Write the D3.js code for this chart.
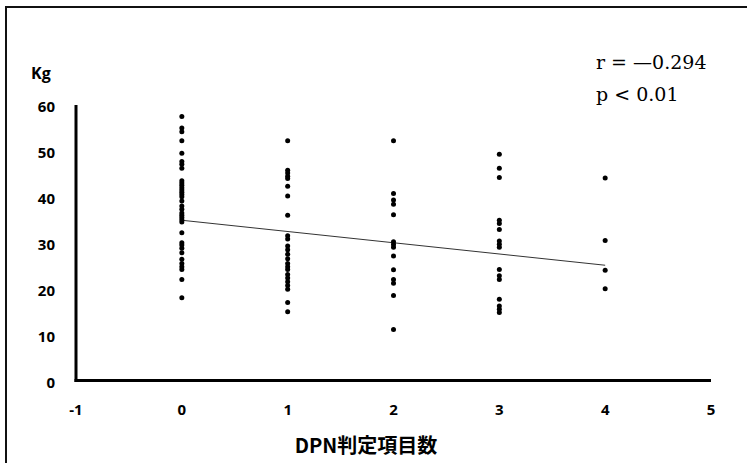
<!DOCTYPE html>
<html>
<head>
<meta charset="utf-8">
<script src="https://cdn.jsdelivr.net/npm/d3@7"></script>
<style>
  body { margin: 0; background: #fff; }
  svg { display: block; }
</style>
</head>
<body>
<script>
"use strict";

// Data: grip strength (Kg) by number of DPN criteria met
const group0 = [57.5, 55, 54.2, 52.2, 49.5, 47.7, 47.1, 46.2, 43.5, 43, 42.5, 42, 41.5, 41, 40.5, 40, 39.1, 38, 37.3, 36.5, 36, 35.5, 35, 34.5, 32.2, 30, 29.5, 28.8, 27.8, 26.4, 25.5, 24.8, 24.2, 22, 18];
const group1 = [52.2, 45.8, 45.2, 44.5, 44, 42.3, 40.2, 36, 31.5, 30.8, 29.3, 28.5, 27.5, 26.5, 25.5, 24.8, 24.2, 23.1, 22.3, 21.5, 20.7, 19.9, 17, 15];
const group2 = [52.2, 40.7, 39.3, 38.4, 36.1, 30.2, 29.6, 29, 27.1, 24.1, 22, 21.2, 18.5, 11.1];
const group3 = [49.3, 46.2, 44.2, 34.9, 34.2, 32.9, 30.4, 29.7, 29, 24.2, 22.8, 22, 17.7, 16.2, 15.5, 14.8];
const group4 = [44.1, 30.5, 24, 20];
const groups = [group0, group1, group2, group3, group4];

const xTicks = [-1, 0, 1, 2, 3, 4, 5];
const yTicks = [0, 10, 20, 30, 40, 50, 60];
const fitIntercept = 34.9;
const fitSlope = -2.45;
const fitRange = [0, 4];
const statLines = ["r = \u20140.294", "p < 0.01"];

const width = 747, height = 463;
const svg = d3.select("body").append("svg")
    .attr("width", width)
    .attr("height", height);

// frame (runs off the right and bottom edges)
svg.append("rect")
    .attr("x", 6).attr("y", 7)
    .attr("width", 760).attr("height", 470)
    .attr("fill", "none")
    .attr("stroke", "#111")
    .attr("stroke-width", 2);

const x = d3.scaleLinear().domain([-1, 5]).range([76, 711]);
const y = d3.scaleLinear().domain([0, 60]).range([380.5, 105]);

// axes
svg.append("line")
    .attr("x1", x(-1)).attr("x2", x(-1))
    .attr("y1", y(60)).attr("y2", y(0) + 1.5)
    .attr("stroke", "#000").attr("stroke-width", 3);
svg.append("line")
    .attr("x1", x(-1) - 1.5).attr("x2", x(5))
    .attr("y1", y(0)).attr("y2", y(0))
    .attr("stroke", "#000").attr("stroke-width", 3);

const tickFont = "'Open Sans', 'Noto Sans', sans-serif";

svg.append("g").selectAll("text")
    .data(yTicks)
    .join("text")
    .attr("x", 55)
    .attr("y", d => y(d) + 2)
    .attr("dy", "0.35em")
    .attr("text-anchor", "end")
    .attr("font-family", tickFont)
    .attr("font-weight", "bold")
    .attr("font-size", 15)
    .attr("fill", "#000")
    .text(d => d);

svg.append("g").selectAll("text")
    .data(xTicks)
    .join("text")
    .attr("x", d => x(d))
    .attr("y", 410)
    .attr("dy", "0.35em")
    .attr("text-anchor", "middle")
    .attr("font-family", tickFont)
    .attr("font-weight", "bold")
    .attr("font-size", 15)
    .attr("fill", "#000")
    .text(d => d);

svg.append("text")
    .attr("x", 31).attr("y", 73)
    .attr("dy", "0.35em")
    .attr("font-family", tickFont)
    .attr("font-weight", "bold")
    .attr("font-size", 16)
    .text("Kg");

svg.append("text")
    .attr("x", 366).attr("y", 446)
    .attr("dy", "0.35em")
    .attr("text-anchor", "middle")
    .attr("font-family", "'Noto Sans CJK JP', sans-serif")
    .attr("font-weight", "bold")
    .attr("font-size", 20)
    .text("DPN判定項目数");

// stats
svg.append("g").selectAll("text")
    .data(statLines)
    .join("text")
    .attr("x", 596)
    .attr("y", (d, i) => 62 + i * 32)
    .attr("dy", "0.35em")
    .attr("font-family", "'DejaVu Serif', serif")
    .attr("font-size", 19)
    .text(d => d);

// regression line
svg.append("line")
    .attr("x1", x(fitRange[0])).attr("y1", y(fitIntercept + fitSlope * fitRange[0]))
    .attr("x2", x(fitRange[1])).attr("y2", y(fitIntercept + fitSlope * fitRange[1]))
    .attr("stroke", "#333").attr("stroke-width", 1);

// points
const points = groups.flatMap((vals, i) => vals.map(v => ({ n: i, v })));
svg.append("g").selectAll("circle")
    .data(points)
    .join("circle")
    .attr("cx", d => x(d.n))
    .attr("cy", d => y(d.v))
    .attr("r", 2.5)
    .attr("fill", "#000");
</script>
</body>
</html>
